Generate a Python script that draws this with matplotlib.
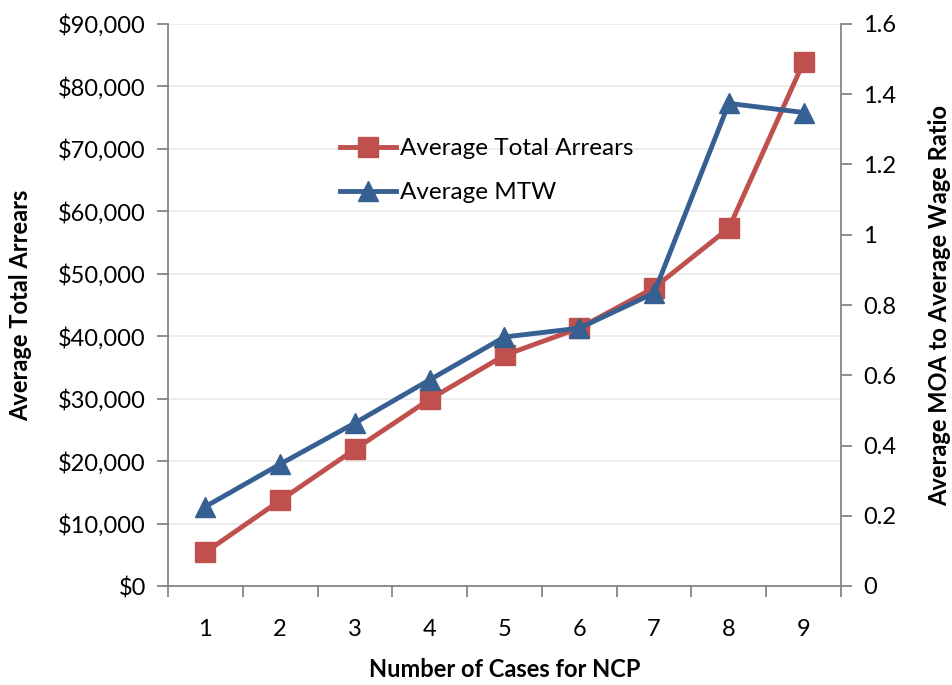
import numpy as np
import matplotlib.pyplot as plt
from matplotlib.ticker import FuncFormatter, FixedLocator

plt.rcParams['font.family'] = ['Lato', 'DejaVu Sans']

# --- datos ---
casos = [1, 2, 3, 4, 5, 6, 7, 8, 9]
arrears = [5400, 13700, 21900, 29900, 36950, 41300, 47750, 57300, 83900]   # Average Total Arrears ($)
mtw = [0.226, 0.347, 0.464, 0.587, 0.709, 0.734, 0.834, 1.374, 1.348]      # Average MTW (ratio)

rojo = '#C0504D'
azul = '#376092'
gris = '#868686'

fig = plt.figure(figsize=(9.52, 6.85), dpi=100)
ax = fig.add_axes([168/952, 1 - 586/685, (841-168)/952, (586-24)/685])
ax2 = ax.twinx()

x = np.arange(1, len(casos) + 1)
l1, = ax.plot(x, arrears, color=rojo, lw=3.5, marker='s', ms=15, label='Average Total Arrears')
l2, = ax2.plot(x, mtw, color=azul, lw=3.5, marker='^', ms=15, label='Average MTW')

# eje izquierdo
ax.set_ylim(0, 90000)
ax.set_yticks(np.arange(0, 90001, 10000))
ax.yaxis.set_major_formatter(FuncFormatter(lambda v, p: f'${v:,.0f}'))
ax.grid(axis='y', color='#EBEBEB', lw=1.3)
ax.set_axisbelow(True)

# eje derecho
ax2.set_ylim(0, 1.6)
ax2.set_yticks(np.arange(0, 1.61, 0.2))
ax2.yaxis.set_major_formatter(FuncFormatter(lambda v, p: f'{v:g}' if v else '0'))

# eje x: marcas entre categorías, etiquetas en el centro
ax.set_xlim(0.5, len(casos) + 0.5)
ax.xaxis.set_major_locator(FixedLocator(np.arange(0.5, len(casos) + 1, 1)))
ax.xaxis.set_minor_locator(FixedLocator(x))
ax.set_xticklabels([])
ax.set_xticklabels([str(c) for c in casos], minor=True)
ax.tick_params(axis='x', which='major', length=8, width=1.3, color=gris, direction='out')
ax.tick_params(axis='x', which='minor', length=0, pad=24, labelsize=17)

for a in (ax, ax2):
    a.spines['top'].set_visible(False)
    for s in ('left', 'right', 'bottom'):
        a.spines[s].set_color(gris)
        a.spines[s].set_linewidth(1.3)
ax.spines['right'].set_visible(False)
ax2.spines['left'].set_visible(False)
ax2.spines['bottom'].set_visible(False)

ax.tick_params(axis='y', length=8, width=1.3, color=gris, labelsize=17, pad=8)
ax2.tick_params(axis='y', length=8, width=1.3, color=gris, labelsize=17, pad=8)

ax.set_ylabel('Average Total Arrears', fontsize=17, fontweight='bold')
ax2.set_ylabel('Average MOA to Average Wage Ratio', fontsize=17, fontweight='bold')
ax.set_xlabel('Number of Cases for NCP', fontsize=17, fontweight='bold')
ax.yaxis.set_label_coords((32 - 168) / 673, 0.5)
ax2.yaxis.set_label_coords((928 - 168) / 673, 0.5)
ax.xaxis.set_label_coords(0.5, (586 - 658) / 562)

fig.legend(handles=[l1, l2], loc='upper left', bbox_to_anchor=(340/952, 1 - 138/685),
           frameon=False, fontsize=17.5, handlelength=2.3, handletextpad=0.15,
           labelspacing=0.95, borderaxespad=0, borderpad=0)

fig.savefig('out.png', dpi=100)
